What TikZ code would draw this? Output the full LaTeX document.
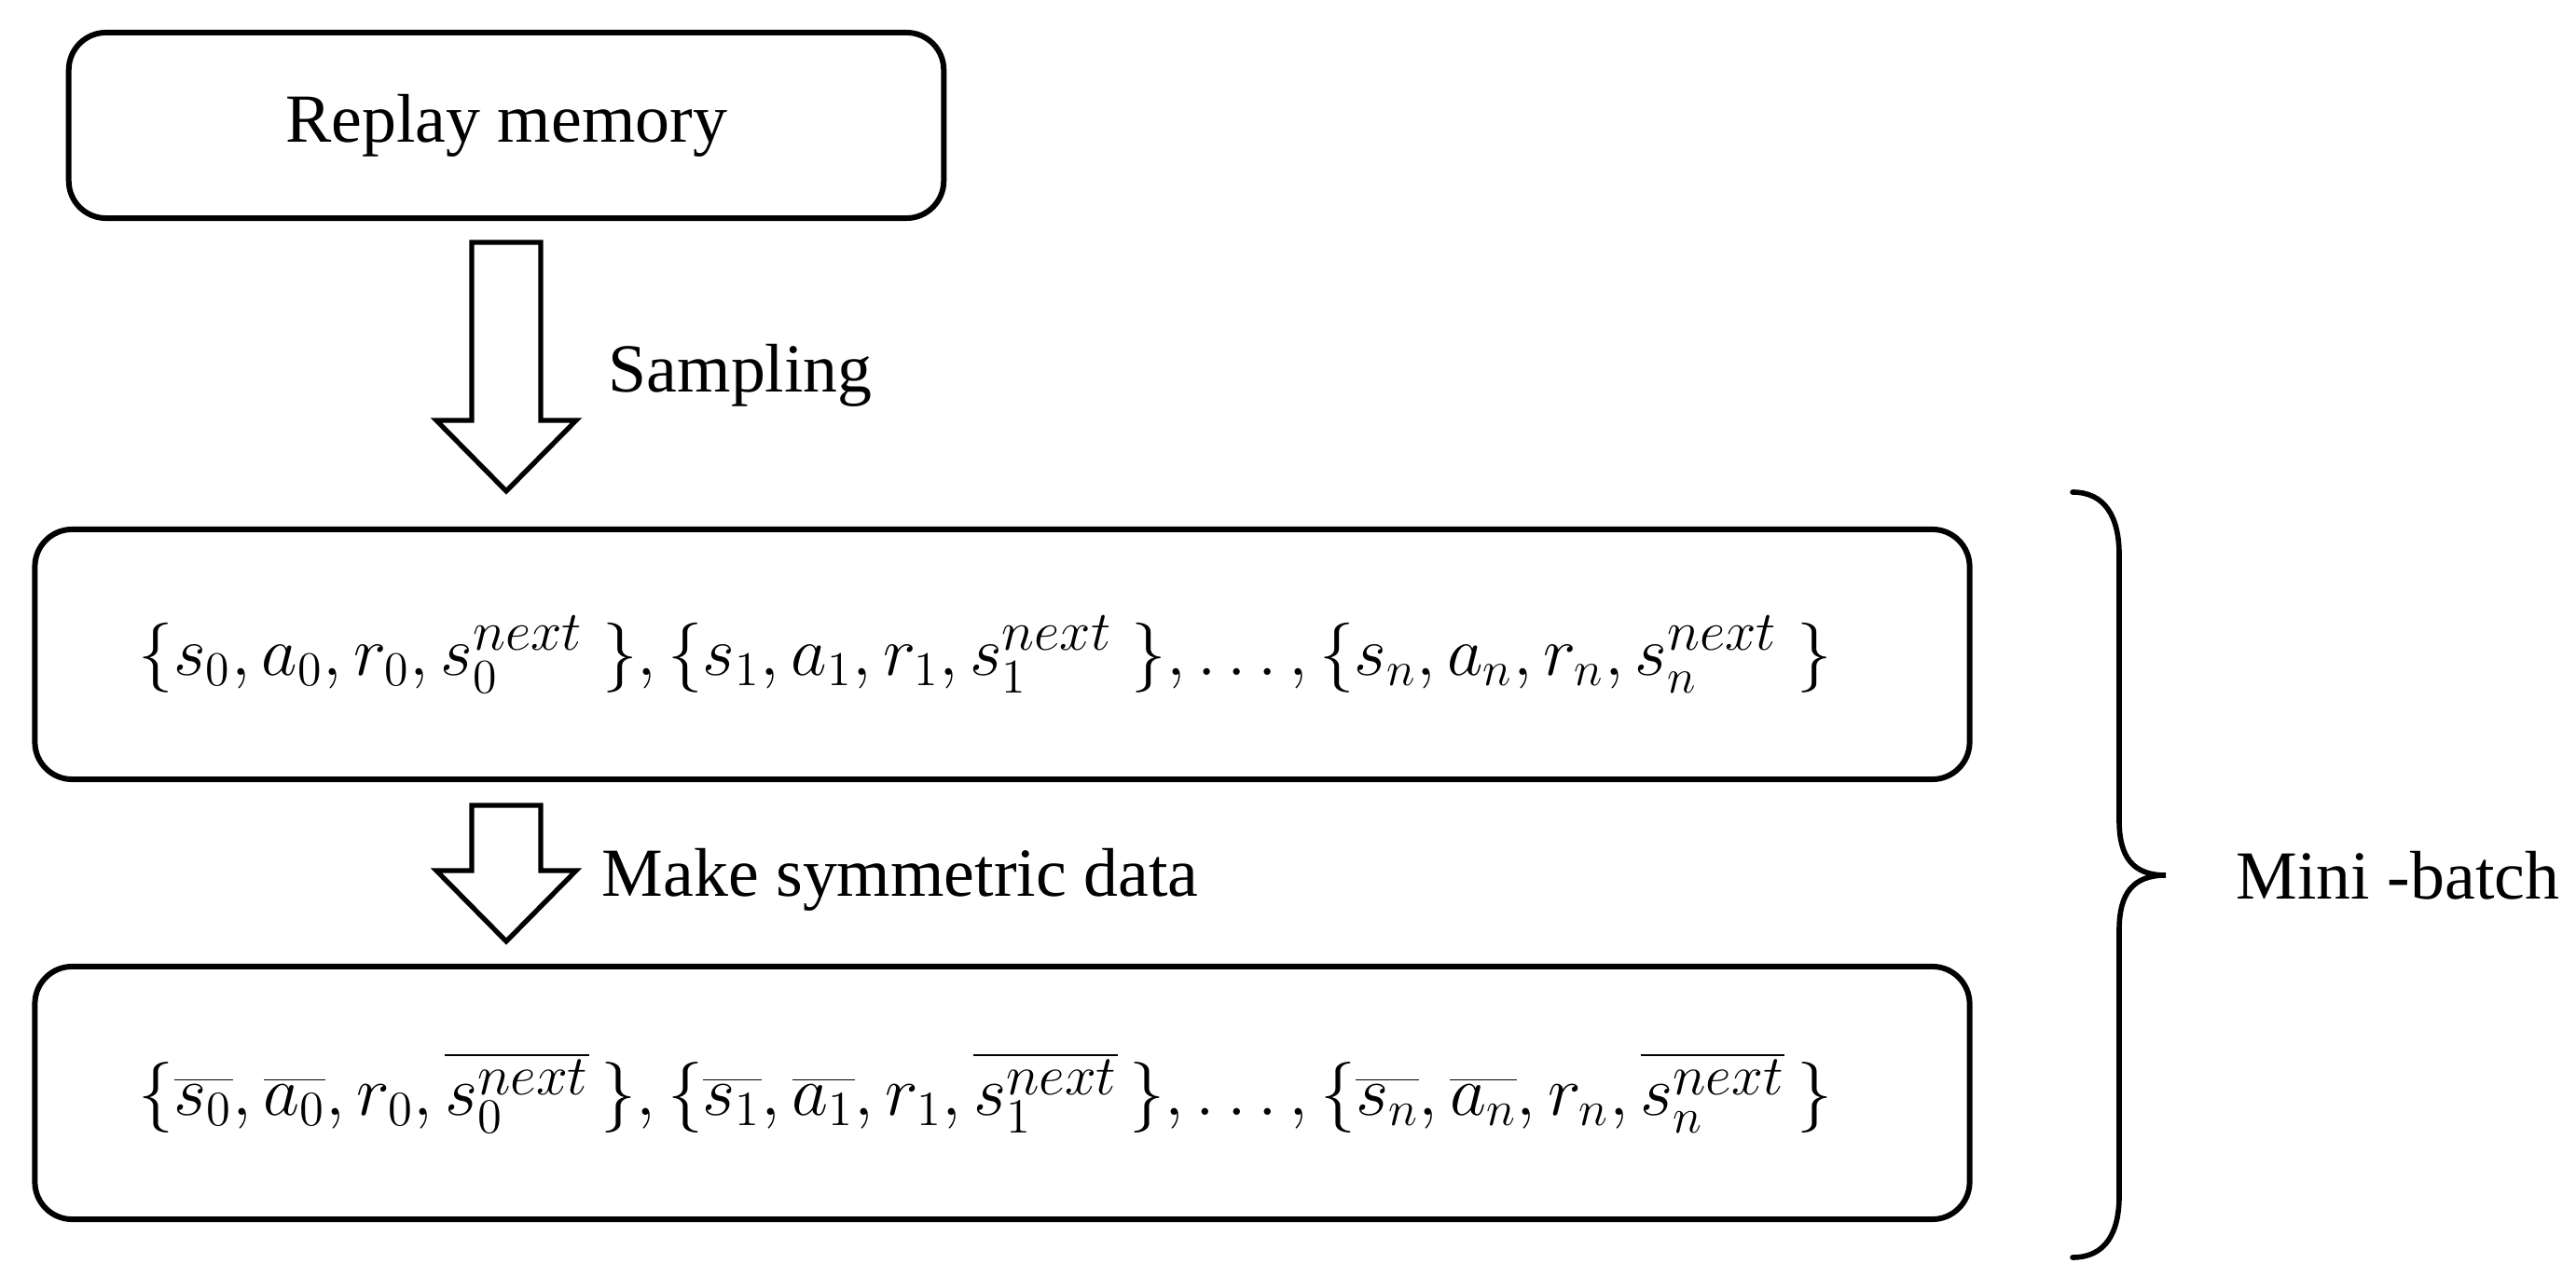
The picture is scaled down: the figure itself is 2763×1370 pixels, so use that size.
\documentclass[tikz,border=0pt]{standalone}
\usepackage{fontspec}
\setmainfont{Liberation Serif}
\usepackage{graphicx}
\usetikzlibrary{calc}
\newcommand{\nx}{\scalebox{1.15}{$\scriptstyle next$}}
\begin{document}
\begin{tikzpicture}[x=0.01cm,y=-0.01cm,
  box/.style={draw, line width=1.7pt, rounded corners=0.4cm, align=center, inner sep=0pt,
    font=\fontsize{21}{25}\selectfont},
  lbl/.style={font=\fontsize{21}{25}\selectfont, inner sep=0pt},
  barrow/.style={draw, line width=1.5pt, line join=miter, fill=white},
  brc/.style={draw, line width=1.6pt, line cap=round}]
\useasboundingbox (0,0) rectangle (2763,1370);

\node[box, minimum width=9.38cm, minimum height=1.99cm] (mem) at (543,134.5) {Replay memory};

\node[box, minimum width=20.74cm, minimum height=2.68cm] (batch) at (1075,702)
  {\resizebox{18.15cm}{!}{$\{s_0, a_0, r_0, s_0^{\nx}\;\}, \{s_1, a_1, r_1, s_1^{\nx}\;\}, \ldots, \{s_n, a_n, r_n, s_n^{\nx}\;\}$}\hspace*{0.36cm}};

\node[box, minimum width=20.74cm, minimum height=2.71cm] (sym) at (1075,1172.5)
  {\resizebox{18.15cm}{!}{$\bigl\{\overline{s_0}, \overline{a_0}, r_0, \overline{s_0^{\nx}}\,\bigr\}, \bigl\{\overline{s_1}, \overline{a_1}, r_1, \overline{s_1^{\nx}}\,\bigr\}, \ldots, \bigl\{\overline{s_n}, \overline{a_n}, r_n, \overline{s_n^{\nx}}\,\bigr\}$}\hspace*{0.36cm}};

% block arrow 1
\coordinate (a1top) at ($(mem.south)+(0,23)$);
\coordinate (a1tip) at ($(mem.south |- batch.north)+(0,-38)$);
\draw[barrow] ($(a1top)+(-37,0)$) -- ($(a1top)+(37,0)$) -- ($(a1tip)+(37,-76)$)
  -- ($(a1tip)+(75,-76)$) -- (a1tip) -- ($(a1tip)+(-75,-76)$) -- ($(a1tip)+(-37,-76)$) -- cycle;
\node[lbl, anchor=base west] (samp) at (652,421) {Sampling};

% block arrow 2
\coordinate (a2top) at ($(mem.south |- batch.south)+(0,25)$);
\coordinate (a2tip) at ($(mem.south |- sym.north)+(0,-24)$);
\draw[barrow] ($(a2top)+(-37,0)$) -- ($(a2top)+(37,0)$) -- ($(a2tip)+(37,-76)$)
  -- ($(a2tip)+(75,-76)$) -- (a2tip) -- ($(a2tip)+(-75,-76)$) -- ($(a2tip)+(-37,-76)$) -- cycle;
\node[lbl, anchor=base west] (symlbl) at (645,961) {Make symmetric data};

% brace
\coordinate (btip) at (2323,939);
\draw[brc] (2223,528) .. controls (2258,528) and (2273,555) .. (2273,595)
  -- (2273,880) .. controls (2273,920) and (2288,939) .. (btip)
  .. controls (2288,939) and (2273,958) .. (2273,998)
  -- (2273,1283) .. controls (2273,1323) and (2258,1349) .. (2223,1349);
\node[lbl, anchor=base west] (mini) at (2398,964) {Mini -batch};
\end{tikzpicture}
\end{document}
